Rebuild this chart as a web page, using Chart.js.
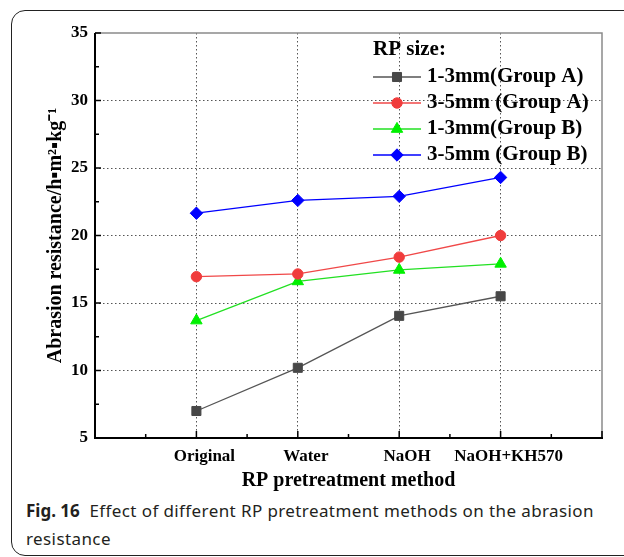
<!DOCTYPE html>
<html>
<head>
<meta charset="utf-8">
<script src="https://cdn.jsdelivr.net/npm/chart.js@4/dist/chart.umd.min.js"></script>
<style>
  body { margin: 0; background: #fff; width: 624px; height: 557px; overflow: hidden; position: relative; }
  #marco { position: absolute; left: 11px; top: 10px; width: 700px; height: 544px; border: 1.5px solid #222; border-radius: 14px; }
  #grafico { position: absolute; left: 0; top: 0; }
  #pie { position: absolute; left: 26px; top: 497px; width: 592px; font-family: "Noto Sans", sans-serif; font-size: 17px; letter-spacing: 0.4px; line-height: 28px; color: #231f20; }
  #pie b { font-weight: 700; letter-spacing: 0; }
</style>
</head>
<body>
<div id="marco"></div>
<canvas id="grafico" width="624" height="495"></canvas>
<div id="pie"><b>Fig. 16</b>&nbsp; Effect of different RP pretreatment methods on the abrasion resistance</div>
<script>
  const metodos = ['Original', 'Water', 'NaOH', 'NaOH+KH570'];
  const ticksY = [5, 10, 15, 20, 25, 30, 35];

  const grupoA13 = [7.0, 10.2, 14.05, 15.5];
  const grupoA35 = [16.95, 17.15, 18.4, 20.0];
  const grupoB13 = [13.7, 16.6, 17.45, 17.9];
  const grupoB35 = [21.65, 22.6, 22.9, 24.3];

  const nombres = ['1-3mm(Group A)', '3-5mm (Group A)', '1-3mm(Group B)', '3-5mm (Group B)'];

  const fuente = '"Liberation Serif", "Times New Roman", serif';

  function puntos(valores) {
    return valores.map((v, i) => ({ x: i + 1, y: v }));
  }

  function serie(label, valores, linea, marca, estilo, radio) {
    return {
      label: label,
      data: puntos(valores),
      borderColor: linea,
      borderWidth: 1.3,
      pointStyle: estilo,
      pointRadius: radio,
      pointHoverRadius: radio,
      pointBackgroundColor: marca,
      pointBorderColor: marca,
      pointBorderWidth: 1,
      fill: false,
      tension: 0
    };
  }

  // marco del area de trazado y marcas hacia dentro
  const marcoEjes = {
    id: 'marcoEjes',
    afterDraw(chart) {
      const ctx = chart.ctx;
      const a = chart.chartArea;
      const sx = chart.scales.x;
      const sy = chart.scales.y;
      ctx.save();
      ctx.lineCap = 'butt';
      ctx.strokeStyle = '#8a8a8a';
      ctx.lineWidth = 1.5;
      ctx.beginPath();
      ctx.moveTo(a.left, a.top);
      ctx.lineTo(a.right, a.top);
      ctx.lineTo(a.right, a.bottom);
      ctx.stroke();

      ctx.strokeStyle = '#000';
      ctx.lineWidth = 1.5;
      for (let v = 0; v <= 5; v += 0.5) {
        const px = sx.getPixelForValue(v);
        const largo = Number.isInteger(v) ? 7 : 4;
        ctx.beginPath();
        ctx.moveTo(px, a.bottom);
        ctx.lineTo(px, a.bottom - largo);
        ctx.stroke();
      }
      for (let v = 5; v <= 35; v += 2.5) {
        const py = sy.getPixelForValue(v);
        const largo = v % 5 === 0 ? 6 : 4;
        ctx.beginPath();
        ctx.moveTo(a.left, py);
        ctx.lineTo(a.left + largo, py);
        ctx.stroke();
      }
      ctx.lineWidth = 2;
      ctx.beginPath();
      ctx.moveTo(a.left, a.top);
      ctx.lineTo(a.left, a.bottom);
      ctx.lineTo(a.right + 1, a.bottom);
      ctx.stroke();
      ctx.restore();
    }
  };

  // leyenda con linea y marcador, dentro del grafico
  const leyenda = {
    id: 'leyenda',
    afterDraw(chart) {
      const ctx = chart.ctx;
      const x0 = 373, x1 = 421, xt = 427;
      ctx.save();
      ctx.fillStyle = '#000';
      ctx.textBaseline = 'middle';
      ctx.font = 'bold 21px ' + fuente;
      ctx.fillText('RP size:', 373, 50);
      chart.data.datasets.forEach((ds, i) => {
        const y = 77 + i * 26;
        ctx.strokeStyle = ds.borderColor;
        ctx.lineWidth = ds.borderWidth;
        ctx.beginPath();
        ctx.moveTo(x0, y);
        ctx.lineTo(x1, y);
        ctx.stroke();
        ctx.fillStyle = ds.pointBackgroundColor;
        ctx.strokeStyle = ds.pointBorderColor;
        ctx.lineWidth = 1;
        Chart.helpers.drawPoint(ctx, { pointStyle: ds.pointStyle, rotation: 0, radius: ds.pointRadius, borderWidth: 1 }, (x0 + x1) / 2, y);
        ctx.fillStyle = '#000';
        ctx.fillText(ds.label, xt, y);
      });
      ctx.restore();
    }
  };

  const ctxLineas = document.getElementById('grafico').getContext('2d');
  new Chart(ctxLineas, {
    type: 'line',
    data: {
      datasets: [
        serie(nombres[0], grupoA13, '#555555', '#474747', 'rect', 6.4),
        serie(nombres[1], grupoA35, '#f04848', '#f03c3c', 'circle', 5.2),
        serie(nombres[2], grupoB13, '#22e022', '#00f000', 'triangle', 6.6),
        serie(nombres[3], grupoB35, '#0000ff', '#0000ff', 'rectRot', 6.2)
      ]
    },
    options: {
      responsive: false,
      devicePixelRatio: 1,
      animation: false,
      events: [],
      layout: { padding: { left: 0, top: 33, right: 22, bottom: 0 } },
      plugins: {
        legend: { display: false },
        tooltip: { enabled: false }
      },
      scales: {
        x: {
          type: 'linear',
          position: 'bottom',
          min: 0,
          max: 5,
          afterFit: s => { s.height = 57; },
          ticks: {
            stepSize: 0.5,
            autoSkip: false,
            maxRotation: 0,
            padding: 8,
            labelOffset: 8,
            color: '#000',
            font: { family: fuente, size: 17, weight: 'bold' },
            callback: v => (Number.isInteger(v) && v >= 1 && v <= 4) ? metodos[v - 1] : ''
          },
          grid: {
            drawTicks: false,
            lineWidth: 1,
            color: c => (Number.isInteger(c.tick.value) && c.tick.value >= 1 && c.tick.value <= 4) ? '#555' : 'rgba(0,0,0,0)'
          },
          border: { display: false, dash: [1.5, 2.5] },
          title: {
            display: true,
            text: 'RP pretreatment method',
            color: '#000',
            font: { family: fuente, size: 20, weight: 'bold' },
            padding: { top: 0, bottom: 2 }
          }
        },
        y: {
          min: 5,
          max: 35,
          afterFit: s => { s.width = 95; },
          ticks: {
            stepSize: 2.5,
            autoSkip: false,
            padding: 7,
            color: '#000',
            font: { family: fuente, size: 17, weight: 'bold' },
            callback: v => ticksY.includes(v) ? v : ''
          },
          grid: {
            drawTicks: false,
            lineWidth: 1,
            color: c => (c.tick.value % 5 === 0 && c.tick.value > 5 && c.tick.value < 35) ? '#555' : 'rgba(0,0,0,0)'
          },
          border: { display: false, dash: [1.5, 2.5] },
          title: {
            display: true,
            text: 'Abrasion resistance/h\u25AAm\u00B2\u25AAkg\u207B\u00B9',
            color: '#000',
            font: { family: fuente, size: 20, weight: 'bold' },
            padding: { top: 44, bottom: 0 }
          }
        }
      }
    },
    plugins: [marcoEjes, leyenda]
  });
</script>
</body>
</html>
